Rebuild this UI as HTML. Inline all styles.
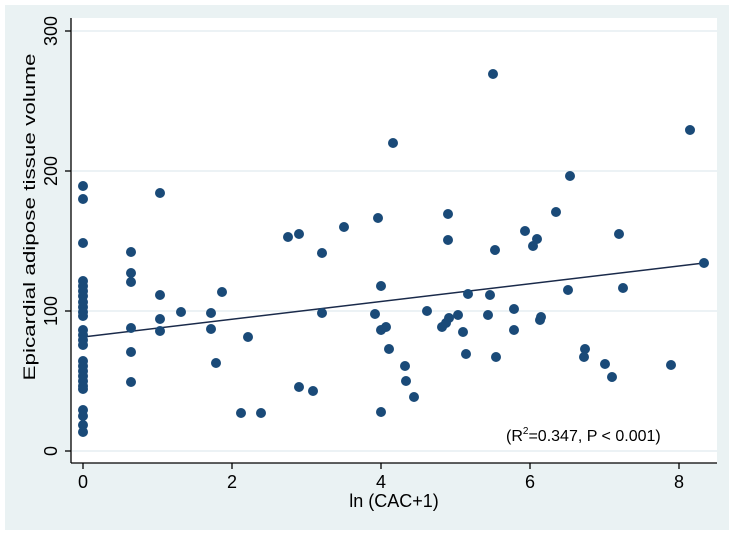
<!DOCTYPE html>
<html><head><meta charset="utf-8"><style>
html,body{margin:0;padding:0;background:#fff;}
svg{display:block;font-family:"Liberation Sans",sans-serif;}
</style></head><body>
<svg width="734" height="537" viewBox="0 0 734 537">
<rect x="5" y="5" width="724" height="525" fill="#eaf2f3"/>
<rect x="71" y="18" width="646" height="445" fill="#fff"/>
<g stroke="#e6eef2" stroke-width="1.5">
<line x1="72" y1="31" x2="717" y2="31"/><line x1="72" y1="171" x2="717" y2="171"/>
<line x1="72" y1="311" x2="717" y2="311"/><line x1="72" y1="451" x2="717" y2="451"/>
</g>
<g stroke="#000" stroke-width="1.3">
<line x1="71" y1="18" x2="71" y2="463"/><line x1="71" y1="463" x2="717" y2="463"/>
<line x1="65" y1="31" x2="71" y2="31"/><line x1="65" y1="171" x2="71" y2="171"/>
<line x1="65" y1="311" x2="71" y2="311"/><line x1="65" y1="451" x2="71" y2="451"/>
<line x1="83" y1="463" x2="83" y2="469"/><line x1="232" y1="463" x2="232" y2="469"/>
<line x1="381" y1="463" x2="381" y2="469"/><line x1="530" y1="463" x2="530" y2="469"/>
<line x1="679" y1="463" x2="679" y2="469"/>
</g>
<g font-size="18" fill="#000" text-anchor="middle">
<text x="83" y="488">0</text><text x="232" y="488">2</text><text x="381" y="488">4</text>
<text x="530" y="488">6</text><text x="679" y="488">8</text>
<text x="394" y="507">ln (CAC+1)</text>
<text transform="translate(57,31) rotate(-90)">300</text>
<text transform="translate(57,171) rotate(-90)">200</text>
<text transform="translate(57,311) rotate(-90)">100</text>
<text transform="translate(57,451) rotate(-90)">0</text>
<text transform="translate(35,217) rotate(-90)" font-size="17" textLength="327" lengthAdjust="spacingAndGlyphs">Epicardial adipose tissue volume</text>
</g>
<text x="506" y="441" font-size="16">(R<tspan font-size="10" dy="-7">2</tspan><tspan dy="7">=0.347, P &lt; 0.001)</tspan></text>
<line x1="83" y1="337" x2="704" y2="263" stroke="#1a2a4a" stroke-width="1.5"/>
<g fill="#1a4a78">
<circle cx="83" cy="186" r="5"/><circle cx="83" cy="199" r="5"/><circle cx="83" cy="243" r="5"/>
<circle cx="83" cy="281" r="5"/><circle cx="83" cy="286" r="5"/><circle cx="83" cy="291" r="5"/><circle cx="83" cy="296" r="5"/><circle cx="83" cy="302" r="5"/><circle cx="83" cy="307" r="5"/><circle cx="83" cy="312" r="5"/><circle cx="83" cy="316" r="5"/>
<circle cx="83" cy="330" r="5"/><circle cx="83" cy="335" r="5"/><circle cx="83" cy="340" r="5"/><circle cx="83" cy="345" r="5"/>
<circle cx="83" cy="361" r="5"/><circle cx="83" cy="366" r="5"/><circle cx="83" cy="371" r="5"/><circle cx="83" cy="376" r="5"/><circle cx="83" cy="381" r="5"/><circle cx="83" cy="386" r="5"/><circle cx="83" cy="389" r="5"/>
<circle cx="83" cy="410" r="5"/><circle cx="83" cy="416" r="5"/><circle cx="83" cy="425" r="5"/><circle cx="83" cy="432" r="5"/>
<circle cx="131" cy="252" r="5"/><circle cx="131" cy="273" r="5"/><circle cx="131" cy="282" r="5"/><circle cx="131" cy="328" r="5"/><circle cx="131" cy="352" r="5"/><circle cx="131" cy="382" r="5"/>
<circle cx="160" cy="193" r="5"/><circle cx="160" cy="295" r="5"/><circle cx="160" cy="319" r="5"/><circle cx="160" cy="331" r="5"/>
<circle cx="181" cy="312" r="5"/><circle cx="211" cy="313" r="5"/><circle cx="211" cy="329" r="5"/><circle cx="216" cy="363" r="5"/><circle cx="222" cy="292" r="5"/>
<circle cx="241" cy="413" r="5"/><circle cx="248" cy="337" r="5"/><circle cx="261" cy="413" r="5"/><circle cx="288" cy="237" r="5"/>
<circle cx="299" cy="234" r="5"/><circle cx="299" cy="387" r="5"/><circle cx="313" cy="391" r="5"/><circle cx="322" cy="253" r="5"/><circle cx="322" cy="313" r="5"/>
<circle cx="344" cy="227" r="5"/><circle cx="375" cy="314" r="5"/><circle cx="378" cy="218" r="5"/><circle cx="381" cy="286" r="5"/><circle cx="381" cy="330" r="5"/><circle cx="381" cy="412" r="5"/>
<circle cx="386" cy="327" r="5"/><circle cx="389" cy="349" r="5"/><circle cx="393" cy="143" r="5"/><circle cx="405" cy="366" r="5"/><circle cx="406" cy="381" r="5"/><circle cx="414" cy="397" r="5"/>
<circle cx="427" cy="311" r="5"/><circle cx="442" cy="327" r="5"/><circle cx="446" cy="323" r="5"/><circle cx="448" cy="240" r="5"/><circle cx="448" cy="214" r="5"/><circle cx="449" cy="318" r="5"/>
<circle cx="458" cy="315" r="5"/><circle cx="463" cy="332" r="5"/><circle cx="466" cy="354" r="5"/><circle cx="468" cy="294" r="5"/>
<circle cx="488" cy="315" r="5"/><circle cx="490" cy="295" r="5"/><circle cx="493" cy="74" r="5"/><circle cx="495" cy="250" r="5"/><circle cx="496" cy="357" r="5"/>
<circle cx="514" cy="309" r="5"/><circle cx="514" cy="330" r="5"/><circle cx="525" cy="231" r="5"/><circle cx="533" cy="246" r="5"/><circle cx="537" cy="239" r="5"/>
<circle cx="540" cy="320" r="5"/><circle cx="541" cy="317" r="5"/><circle cx="556" cy="212" r="5"/><circle cx="570" cy="176" r="5"/><circle cx="568" cy="290" r="5"/>
<circle cx="585" cy="349" r="5"/><circle cx="584" cy="357" r="5"/><circle cx="605" cy="364" r="5"/><circle cx="612" cy="377" r="5"/><circle cx="619" cy="234" r="5"/><circle cx="623" cy="288" r="5"/>
<circle cx="671" cy="365" r="5"/><circle cx="690" cy="130" r="5"/><circle cx="704" cy="263" r="5"/>
</g>
</svg>
</body></html>
